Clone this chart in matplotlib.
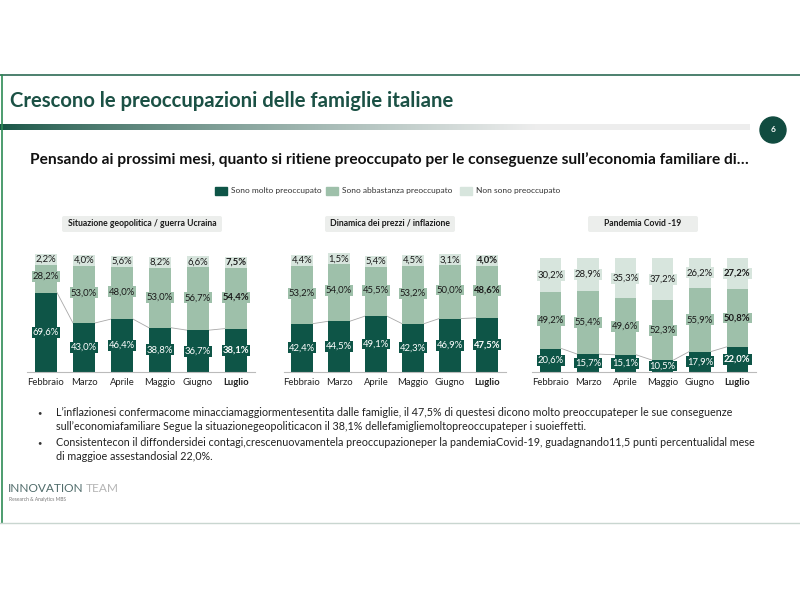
import numpy as np
import matplotlib
matplotlib.use('Agg')
import matplotlib.pyplot as plt
from matplotlib.patches import Circle, FancyBboxPatch, Rectangle

plt.rcParams['font.family'] = ['Lato', 'DejaVu Sans']

months = ['Febbraio', 'Marzo', 'Aprile', 'Maggio', 'Giugno', 'Luglio']
series_names = ['Sono molto preoccupato', 'Sono abbastanza preoccupato', 'Non sono preoccupato']

geo_molto = [69.6, 43.0, 46.4, 38.8, 36.7, 38.1]
geo_abb = [28.2, 53.0, 48.0, 53.0, 56.7, 54.4]
geo_non = [2.2, 4.0, 5.6, 8.2, 6.6, 7.5]

prezzi_molto = [42.4, 44.5, 49.1, 42.3, 46.9, 47.5]
prezzi_abb = [53.2, 54.0, 45.5, 53.2, 50.0, 48.6]
prezzi_non = [4.4, 1.5, 5.4, 4.5, 3.1, 4.0]

covid_molto = [20.6, 15.7, 15.1, 10.5, 17.9, 22.0]
covid_abb = [49.2, 55.4, 49.6, 52.3, 55.9, 50.8]
covid_non = [30.2, 28.9, 35.3, 37.2, 26.2, 27.2]

panel_titles = ['Situazione geopolitica / guerra Ucraina',
                'Dinamica dei prezzi / inflazione',
                'Pandemia Covid -19']

title = 'Crescono le preoccupazioni delle famiglie italiane'
subtitle = 'Pensando ai prossimi mesi, quanto si ritiene preoccupato per le conseguenze sull\u2019economia familiare di\u2026'
bullets = [
    ['L\u2019inflazionesi confermacome minacciamaggiormentesentita dalle famiglie, il 47,5% di questesi dicono molto preoccupateper le sue conseguenze',
     'sull\u2019economiafamiliare Segue la situazionegeopoliticacon il 38,1% dellefamigliemoltopreoccupateper i suoieffetti.'],
    ['Consistentecon il diffondersidei contagi,crescenuovamentela preoccupazioneper la pandemiaCovid-19, guadagnando11,5 punti percentualidal mese',
     'di maggioe assestandosial 22,0%.'],
]

dark = '#0e5547'
mid = '#9ec0aa'
light = '#d7e5dd'
green_txt = '#1b5145'

fig = plt.figure(figsize=(8, 6), dpi=100)
bg = fig.add_axes([0, 0, 1, 1])
bg.set_xlim(0, 800)
bg.set_ylim(600, 0)
bg.axis('off')

# slide frame
bg.plot([0, 800], [75, 75], color='#2e6b55', lw=1.2)
bg.plot([2, 2], [75, 523], color='#2e8b55', lw=1.2)
bg.plot([0, 800], [523, 523], color='#c9d6d0', lw=1.0)

bg.text(10, 101, title, fontsize=14.6, fontweight='bold', color=green_txt, va='center', ha='left')

# gradient bar under title
grad = np.linspace(0, 1, 300)
c0 = np.array([0.09, 0.33, 0.27])
c1 = np.array([0.93, 0.93, 0.93])
w = np.clip(grad * 1.4, 0, 1)[:, None] ** 0.8
img = (c0 * (1 - w) + c1 * w)[None, :, :]
bg.imshow(img, extent=[0, 750, 130, 124], aspect='auto', zorder=1)
bg.set_xlim(0, 800)
bg.set_ylim(600, 0)

bg.add_patch(Circle((773, 130), 13, color='#114b40', zorder=3))
bg.text(773, 130, '6', color='white', fontsize=6, fontweight='bold', ha='center', va='center', zorder=4)

bg.text(30, 160, subtitle, fontsize=11.2, fontweight='bold', color='#111111', va='center', ha='left')

# legend
leg_x = [222, 333, 467]
for x, name, col in zip(leg_x, series_names, [dark, mid, light]):
    bg.add_patch(Rectangle((x - 7, 187), 12, 8, color=col))
    bg.text(x + 9, 191, name, fontsize=6, color='#333333', va='center', ha='left')

# bullets
by = [413, 443]
for y, lines in zip(by, bullets):
    bg.text(37, y, '\u2022', fontsize=5.5, color='#333333', va='center')
    for k, ln in enumerate(lines):
        bg.text(56, y + k * 14, ln, fontsize=7.75, color='#222222', va='center', ha='left')

# logo
t1 = bg.text(8, 488, 'INNOVATION', fontsize=8.6, color='#4f6b6a', va='center', ha='left')
r = fig.canvas.get_renderer()
ext = t1.get_window_extent(renderer=r)
bg.text(ext.x1 + 2, 488, 'TEAM', fontsize=8.6, color='#b5b5b5', va='center', ha='left')
bg.text(9, 499, 'Research & Analytics MBS', fontsize=3.5, color='#777777', va='center', ha='left')

panels = [
    (geo_molto, geo_abb, geo_non, 27, 228, 142, 160),
    (prezzi_molto, prezzi_abb, prezzi_non, 283.5, 222, 390, 130),
    (covid_molto, covid_abb, covid_non, 532, 224, 643, 110),
]

def fmt(v):
    return ('%.1f' % v).replace('.', ',') + '%'

base_y = 372
top_y = 258
fs = 6.8
for pi, (molto, abb, non, left, width, tcx, tw) in enumerate(panels):
    ax = fig.add_axes([left / 800, (600 - base_y) / 600, width / 800, (base_y - top_y) / 600])
    ax.patch.set_alpha(0)
    x = np.arange(len(months))
    bw = 0.58
    molto = np.array(molto)
    abb = np.array(abb)
    non = np.array(non)
    ax.bar(x, molto, bw, color=dark, zorder=2)
    ax.bar(x, abb, bw, bottom=molto, color=mid, zorder=2)
    ax.bar(x, non, bw, bottom=molto + abb, color=light, zorder=2)
    # connecting lines
    for i in range(len(x) - 1):
        ax.plot([x[i] + bw / 2, x[i + 1] - bw / 2], [molto[i], molto[i + 1]],
                color='#a8a8a8', lw=0.6, zorder=1)
    for i in range(len(x)):
        wt = 'bold' if i == len(x) - 1 else 'normal'
        ax.text(x[i], molto[i] / 2, fmt(molto[i]), ha='center', va='center', fontsize=fs,
                color='white', fontweight=wt, zorder=4,
                bbox=dict(boxstyle='square,pad=0.1', fc=dark, ec='none'))
        ax.text(x[i], molto[i] + abb[i] / 2, fmt(abb[i]), ha='center', va='center', fontsize=fs,
                color='#1a1a1a', fontweight=wt, zorder=4,
                bbox=dict(boxstyle='square,pad=0.1', fc=mid, ec='none'))
        ax.text(x[i], molto[i] + abb[i] + non[i] / 2, fmt(non[i]), ha='center', va='center',
                fontsize=fs, color='#1a1a1a', fontweight=wt, zorder=4,
                bbox=dict(boxstyle='square,pad=0.1', fc=light, ec='none'))
    ax.set_xlim(-0.5, len(x) - 0.5)
    ax.set_ylim(0, 100)
    ax.set_xticks(x)
    ax.set_xticklabels(months, fontsize=fs, color='#222222')
    ax.get_xticklabels()[-1].set_fontweight('bold')
    ax.tick_params(axis='x', length=0, pad=4)
    ax.set_yticks([])
    for s in ['top', 'right', 'left']:
        ax.spines[s].set_visible(False)
    ax.spines['bottom'].set_color('#bbbbbb')
    ax.spines['bottom'].set_linewidth(0.8)

    # panel title box
    bg.add_patch(FancyBboxPatch((tcx - tw / 2, 216), tw, 16, boxstyle='round,pad=0,rounding_size=2',
                                fc='#eceeec', ec='none', zorder=2))
    bg.text(tcx, 224, panel_titles[pi], fontsize=6.2, fontweight='bold', color='#1a1a1a',
            ha='center', va='center', zorder=3)

fig.savefig('out.png', dpi=100)
